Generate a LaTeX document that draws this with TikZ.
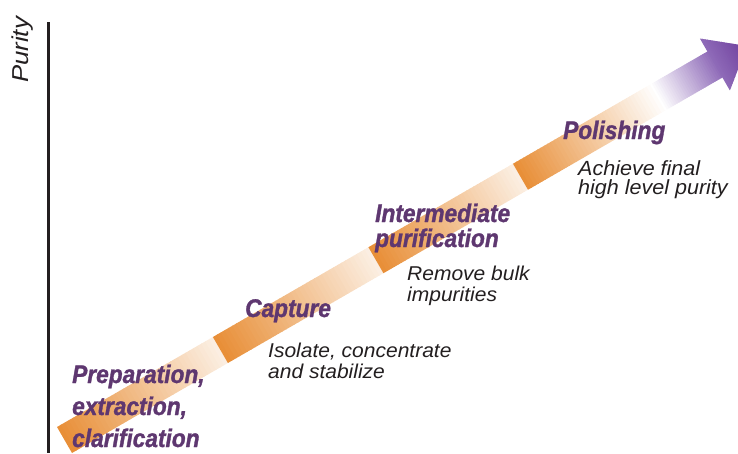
\documentclass[tikz,border=0pt]{standalone}
\usepackage{fontspec}
\newfontfamily\labfont[FakeStretch=0.89, BoldItalicFeatures={FakeBold=1.3}]{Liberation Sans}
\newfontfamily\subfont[FakeStretch=1.05]{Liberation Sans}
\newfontfamily\purfont[FakeStretch=1.12]{Liberation Sans}
\definecolor{bandOrange}{RGB}{232,143,56}
\definecolor{bandLight}{RGB}{252,241,230}
\definecolor{purpleDark}{RGB}{110,62,156}
\definecolor{purpleMid}{RGB}{142,106,184}
\definecolor{labPurple}{RGB}{94,55,112}
\definecolor{txtDark}{RGB}{35,31,32}
\begin{document}
\begin{tikzpicture}[x=1pt,y=-1pt,
  stage/.style={anchor=base west, align=left, inner sep=0pt, text=labPurple},
  desc/.style={anchor=base west, align=left, inner sep=0pt, text=txtDark},
  axisline/.style={line width=2.8pt, draw=txtDark}]
\useasboundingbox (0,0) rectangle (738,453);
\begin{scope}
\clip (0,0) rectangle (738,453);
% axis
\coordinate (atop) at (48.5,22);
\coordinate (abot) at (48.5,453);
\draw[axisline] (atop) -- (abot);
% band
\begin{scope}[shift={(64.5,440)}, rotate=30]
  % three orange->light segments
  \foreach \a/\b in {0/180, 180/359.6, 359.6/526.5}{
    \pgfmathsetmacro\d{(\b-\a)/40}
    \foreach \i in {0,...,39}{
      \pgfmathsetmacro\p{100-\i*2.5}
      \pgfmathsetmacro\x{\a+\i*\d}
      \pgfmathsetmacro\w{\i==39 ? \d : \d+0.8}
      \fill[bandOrange!\p!bandLight] (\x,-15) rectangle ++(\w,30);
    }
  }
  % last segment: orange -> white
  \foreach \i in {0,...,39}{
    \pgfmathsetmacro\p{100-\i*2.5}
    \pgfmathsetmacro\x{526.5+\i*3.955}
    \fill[bandOrange!\p!white] (\x,-15) rectangle ++(4.8,30);
  }
  % white -> purple
  \foreach \i in {0,...,29}{
    \pgfmathsetmacro\p{\i*100/29}
    \pgfmathsetmacro\x{684.7+\i*2.3}
    \fill[purpleMid!\p!white] (\x,-15) rectangle ++(3.1,30);
  }
  % head
  \begin{scope}
    \clip (751,-30) -- (788,0) -- (751,30) -- cycle;
    \foreach \i in {0,...,19}{
      \pgfmathsetmacro\p{\i*5}
      \pgfmathsetmacro\x{751+\i*1.85}
      \fill[purpleDark!\p!purpleMid] (\x,-31) rectangle ++(2.6,62);
    }
  \end{scope}
\end{scope}
\end{scope}
% axis label
\node[rotate=90, anchor=base west, inner sep=0pt, text=txtDark,
  font=\purfont\itshape\fontsize{23}{23}\selectfont] (purity) at (28,83) {Purity};
% stage labels (base anchor = baseline of last line)
\node[stage, font=\labfont\bfseries\itshape\fontsize{25.5}{32}\selectfont] (prep) at (72,447)
  {Preparation,\\extraction,\\clarification};
\node[stage, font=\labfont\bfseries\itshape\fontsize{25.5}{32}\selectfont] (capture) at (245,317) {Capture};
\node[stage, font=\labfont\bfseries\itshape\fontsize{25.5}{25}\selectfont] (inter) at (375,247)
  {Intermediate\\purification};
\node[stage, font=\labfont\bfseries\itshape\fontsize{25.5}{32}\selectfont] (polish) at (563,139) {Polishing};
% descriptions
\node[desc, font=\subfont\itshape\fontsize{20}{21}\selectfont] (d1) at (268,378)
  {Isolate, concentrate\\and stabilize};
\node[desc, font=\subfont\itshape\fontsize{20}{21}\selectfont] (d2) at (407,301)
  {Remove bulk\\impurities};
\node[desc, font=\subfont\itshape\fontsize{20.5}{19.5}\selectfont] (d3) at (578,194.5)
  {Achieve final\\high level purity};
\end{tikzpicture}
\end{document}
